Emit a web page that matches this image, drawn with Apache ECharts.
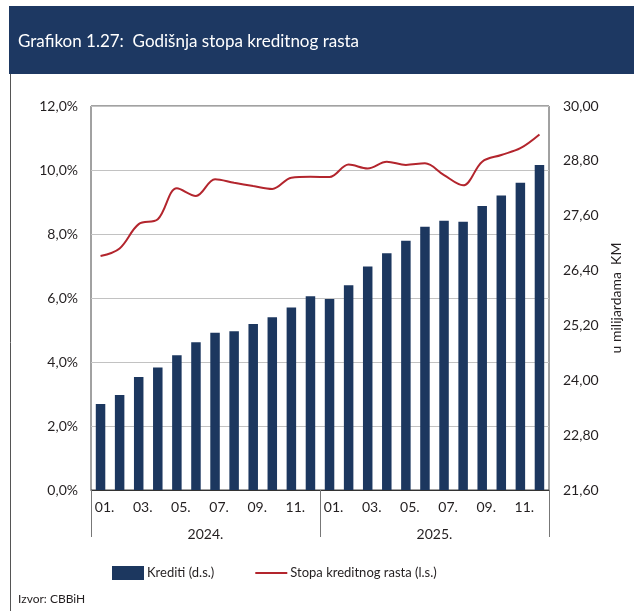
<!DOCTYPE html>
<html>
<head>
<meta charset="utf-8">
<script src="https://cdn.jsdelivr.net/npm/echarts@6/dist/echarts.min.js"></script>
<style>
  html, body { margin: 0; padding: 0; background: #fff; }
  #chart { width: 634px; height: 611px; }
</style>
</head>
<body>
<div id="chart"></div>
<script>
// mjeseci 2024-2025
var months = ["01.", "02.", "03.", "04.", "05.", "06.", "07.", "08.", "09.", "10.", "11.", "12.",
              "01.", "02.", "03.", "04.", "05.", "06.", "07.", "08.", "09.", "10.", "11.", "12."];
var years = ["2024.", "2025."];
// Krediti (d.s.), milijarde KM
var krediti = [23.48, 23.68, 24.07, 24.28, 24.55, 24.83, 25.04, 25.07, 25.23, 25.38, 25.59, 25.84,
               25.78, 26.08, 26.49, 26.78, 27.05, 27.36, 27.49, 27.47, 27.81, 28.04, 28.32, 28.71];
// Stopa kreditnog rasta (l.s.), %
var stopa = [7.31, 7.55, 8.31, 8.46, 9.43, 9.19, 9.71, 9.60, 9.50, 9.41, 9.76, 9.79,
             9.78, 10.17, 10.05, 10.26, 10.16, 10.21, 9.84, 9.52, 10.26, 10.47, 10.68, 11.11];

var navy = "#1c375f";
var red = "#b3252d";
var txt = "#231f20";
var font = "Lato";

var chart = echarts.init(document.getElementById("chart"));

var option = {
  animation: false,
  textStyle: { fontFamily: font },
  graphic: [
    { type: "rect", left: 9, top: 6, shape: { width: 625, height: 68 }, style: { fill: "#1d3862" } },
    { type: "text", left: 18, top: 33, style: { text: "Grafikon 1.27:  Godišnja stopa kreditnog rasta", fill: "#fff", font: "17px " + font } },
    { type: "line", shape: { x1: 10.5, y1: 74, x2: 10.5, y2: 611 }, style: { stroke: "#555", lineWidth: 1 } },
    { type: "text", left: 18, top: 593, style: { text: "Izvor: CBBiH", fill: txt, font: "12px " + font } }
  ],
  legend: {
    left: 107,
    top: 561,
    itemWidth: 32,
    itemHeight: 14,
    itemGap: 40,
    textStyle: { color: txt, fontSize: 13, padding: [0, 0, 0, -2] },
    data: [
      { name: "Krediti (d.s.)", icon: "rect" },
      { name: "Stopa kreditnog rasta (l.s.)", itemStyle: { opacity: 0 } }
    ]
  },
  grid: {
    left: 91, right: 85, top: 106, bottom: 121,
    show: true, borderColor: "#444", borderWidth: 1
  },
  xAxis: [
    {
      type: "category",
      data: months,
      axisLine: { show: true, lineStyle: { color: "#333" } },
      axisTick: { show: false },
      axisLabel: { interval: 1, color: txt, fontSize: 14, margin: 10, padding: [0, 0, 0, 8] }
    },
    {
      type: "category",
      data: years,
      position: "bottom",
      axisLine: { show: false },
      axisTick: { show: true, length: 47, lineStyle: { color: "#777" } },
      axisLabel: { color: txt, fontSize: 14, margin: 37 }
    }
  ],
  yAxis: [
    {
      type: "value",
      min: 0, max: 12, interval: 2,
      axisLine: { show: false },
      axisTick: { show: false },
      splitLine: { lineStyle: { color: "#c2c2c2" } },
      axisLabel: {
        color: txt, fontSize: 14, margin: 13,
        formatter: function (v) { return v.toFixed(1).replace(".", ",") + "%"; }
      }
    },
    {
      type: "value",
      min: 21.6, max: 30, interval: 1.2,
      position: "right",
      name: "u milijardama  KM",
      nameLocation: "middle",
      nameRotate: 90,
      nameGap: 58,
      nameTextStyle: { color: txt, fontSize: 14 },
      axisLine: { show: false },
      axisTick: { show: false },
      splitLine: { show: false },
      axisLabel: {
        color: txt, fontSize: 14, margin: 14,
        formatter: function (v) { return v.toFixed(2).replace(".", ","); }
      }
    }
  ],
  series: [
    {
      name: "Krediti (d.s.)",
      type: "bar",
      yAxisIndex: 1,
      barWidth: 9.5,
      itemStyle: { color: navy },
      data: krediti
    },
    {
      name: "Stopa kreditnog rasta (l.s.)",
      type: "line",
      yAxisIndex: 0,
      smooth: 0.35,
      symbol: "none",
      lineStyle: { color: red, width: 2 },
      itemStyle: { color: red },
      data: stopa
    }
  ]
};

chart.setOption(option);
</script>
</body>
</html>
